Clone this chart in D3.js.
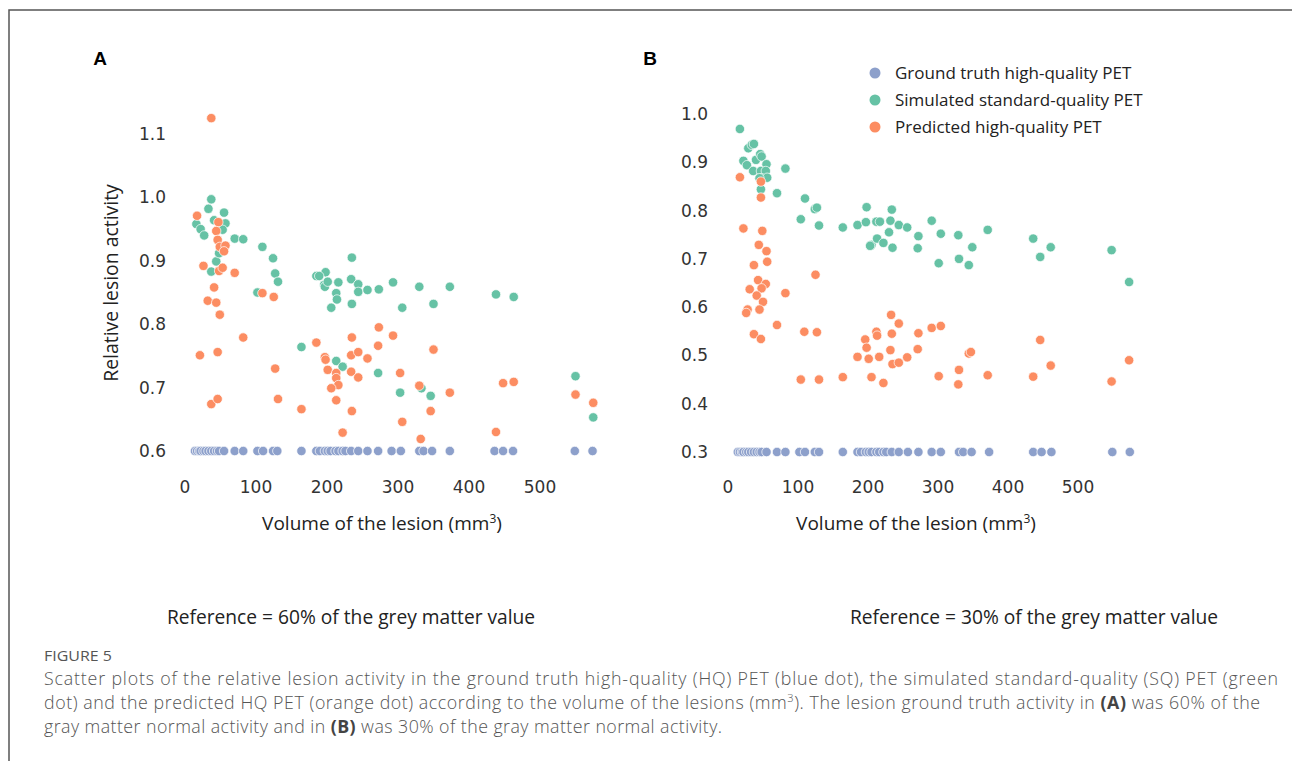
<!DOCTYPE html><html><head><meta charset="utf-8">
<title>Figure 5 scatter plots</title>
<script src="https://cdn.jsdelivr.net/npm/d3@7"></script>
<style>
body { margin: 0; background: #fff; }
svg { display: block; }
.tick-label { font-family: "DejaVu Sans", sans-serif; font-size: 17px; fill: #333; }
.lab { font-family: "Open Sans", sans-serif; fill: #222; }
.cap { font-family: "Open Sans", sans-serif; font-weight: 300; fill: #555; }
</style>
</head>
<body>
<div id="chart"></div>
<script>
// lesion volumes (mm3), shared by both panels
const volumes = [14, 17, 20, 22, 26, 29, 33, 37, 41, 45, 48, 55, 70, 82, 102, 110, 124, 130, 164,
	185, 190, 197, 201, 205, 212, 216, 222, 226, 234, 244, 257, 272, 291, 304, 330, 336, 348, 373,
	436, 448, 462, 549, 574];

// panel A: reference = 60%
const truthA = 0.6;
const simA = [[37, 0.997], [33, 0.982], [55, 0.976], [16, 0.958], [22, 0.950], [27, 0.940], [41, 0.964],
	[57, 0.959], [53, 0.949], [70, 0.935], [82, 0.934], [109, 0.922], [124, 0.904], [127, 0.880],
	[131, 0.867], [44, 0.899], [37, 0.883], [48, 0.912], [185, 0.876], [198, 0.882], [196, 0.862],
	[102, 0.850], [164, 0.764], [235, 0.905], [189, 0.876], [197, 0.859], [201, 0.867], [216, 0.866],
	[234, 0.871], [244, 0.863], [244, 0.851], [257, 0.854], [273, 0.855], [293, 0.866], [330, 0.859],
	[373, 0.859], [438, 0.847], [463, 0.843], [213, 0.849], [214, 0.839], [206, 0.826], [235, 0.832],
	[306, 0.826], [350, 0.832], [213, 0.742], [222, 0.733], [272, 0.723], [303, 0.692], [333, 0.699],
	[346, 0.687], [550, 0.718], [575, 0.653]];
const predA = [[37, 1.125], [17, 0.971], [47, 0.961], [44, 0.947], [46, 0.933], [49, 0.922], [57, 0.924],
	[55, 0.915], [26, 0.892], [48, 0.884], [53, 0.889], [70, 0.881], [41, 0.858], [32, 0.837],
	[44, 0.834], [49, 0.815], [82, 0.779], [21, 0.751], [46, 0.756], [127, 0.730], [37, 0.674],
	[46, 0.682], [131, 0.682], [164, 0.666], [109, 0.849], [125, 0.843], [185, 0.771], [197, 0.748],
	[198, 0.744], [201, 0.728], [213, 0.723], [213, 0.715], [216, 0.704], [206, 0.699], [213, 0.680],
	[222, 0.629], [235, 0.663], [234, 0.725], [244, 0.716], [234, 0.751], [244, 0.756], [257, 0.746],
	[235, 0.779], [272, 0.766], [273, 0.795], [293, 0.782], [303, 0.723], [306, 0.646], [330, 0.703],
	[332, 0.619], [346, 0.663], [350, 0.760], [373, 0.692], [438, 0.630], [448, 0.707], [463, 0.709],
	[550, 0.689], [575, 0.676]];

// panel B: reference = 30%
const truthB = 0.3;
const simB = [[17, 0.969], [29, 0.929], [34, 0.936], [37, 0.938], [22, 0.903], [27, 0.894], [36, 0.882],
	[40, 0.905], [46, 0.917], [48, 0.912], [55, 0.896], [47, 0.882], [54, 0.882], [48, 0.867],
	[56, 0.868], [45, 0.867], [47, 0.844], [70, 0.836], [82, 0.887], [110, 0.825], [124, 0.803],
	[127, 0.806], [104, 0.782], [130, 0.769], [164, 0.765], [185, 0.770], [198, 0.807], [197, 0.776],
	[212, 0.777], [217, 0.777], [205, 0.729], [213, 0.742], [222, 0.733], [230, 0.755], [234, 0.802],
	[232, 0.779], [244, 0.770], [256, 0.765], [291, 0.779], [304, 0.752], [329, 0.749], [371, 0.760],
	[436, 0.742], [461, 0.724], [446, 0.704], [548, 0.718], [573, 0.652], [203, 0.727], [235, 0.723],
	[272, 0.747], [271, 0.722], [301, 0.691], [330, 0.700], [349, 0.724], [344, 0.687]];
const predB = [[17, 0.869], [47, 0.860], [47, 0.827], [22, 0.763], [49, 0.758], [44, 0.729], [55, 0.716],
	[56, 0.694], [37, 0.687], [43, 0.656], [54, 0.648], [31, 0.637], [48, 0.639], [41, 0.624],
	[50, 0.611], [82, 0.629], [28, 0.595], [26, 0.588], [45, 0.595], [70, 0.563], [37, 0.544],
	[47, 0.534], [109, 0.549], [127, 0.548], [125, 0.667], [104, 0.450], [130, 0.450], [164, 0.455],
	[185, 0.497], [196, 0.533], [198, 0.516], [201, 0.493], [205, 0.455], [212, 0.549], [213, 0.541],
	[216, 0.497], [222, 0.443], [233, 0.584], [244, 0.566], [234, 0.545], [232, 0.511], [235, 0.482],
	[244, 0.485], [256, 0.496], [272, 0.546], [271, 0.513], [291, 0.557], [304, 0.561], [301, 0.457],
	[330, 0.470], [329, 0.440], [344, 0.504], [347, 0.507], [371, 0.459], [436, 0.456], [446, 0.532],
	[461, 0.479], [548, 0.446], [573, 0.490]];

const xTicks = [0, 100, 200, 300, 400, 500];
const yTicksA = [0.6, 0.7, 0.8, 0.9, 1.0, 1.1];
const yTicksB = [0.3, 0.4, 0.5, 0.6, 0.7, 0.8, 0.9, 1.0];

const seriesNames = ["Ground truth high-quality PET", "Simulated standard-quality PET", "Predicted high-quality PET"];
const colors = ["#8da0cb", "#66c2a5", "#fc8d62"];

const W = 1292, H = 761;
const svg = d3.select("#chart").append("svg").attr("width", W).attr("height", H);

// frame
svg.append("path").attr("d", `M9,${H} V10 H${W}`).attr("fill", "none").attr("stroke", "#555").attr("stroke-width", 1.5);

function panel(opt) {
	const x = d3.scaleLinear().domain([0, 500]).range(opt.xr);
	const y = d3.scaleLinear().domain(opt.yd).range(opt.yr);
	const g = svg.append("g");

	// y tick labels
	g.selectAll(".yt").data(opt.yTicks).join("text")
		.attr("class", "tick-label")
		.attr("x", opt.yLabelX).attr("y", d => y(d)).attr("dy", "0.35em")
		.attr("text-anchor", "end")
		.text(d => d3.format(".1f")(d));
	// x tick labels
	g.selectAll(".xt").data(xTicks).join("text")
		.attr("class", "tick-label")
		.attr("x", d => x(d)).attr("y", 493)
		.attr("text-anchor", "middle")
		.text(d => d);

	const truth = volumes.map(v => [v, opt.truth]);
	[truth, opt.sim, opt.pred].forEach((data, i) => {
		g.append("g").selectAll("circle").data(data).join("circle")
			.attr("cx", d => x(d[0])).attr("cy", d => y(d[1])).attr("r", 4.7)
			.attr("fill", colors[i]).attr("stroke", "#fff").attr("stroke-width", 0.7);
	});

	const xl = g.append("text").attr("class", "lab").attr("font-size", 19)
		.attr("x", opt.xTitleX).attr("y", 530).attr("text-anchor", "middle");
	xl.append("tspan").text("Volume of the lesion (mm");
	xl.append("tspan").attr("font-size", 12).attr("dy", -7).text("3");
	xl.append("tspan").attr("dy", 7).text(")");

	g.append("text").attr("font-family", "Liberation Sans, Arial, sans-serif").attr("font-weight", "bold")
		.attr("font-size", 19).attr("x", opt.letterX).attr("y", 65).attr("text-anchor", "middle").text(opt.letter);

	g.append("text").attr("class", "lab").attr("font-size", 19.2)
		.attr("x", opt.refX).attr("y", 624).attr("text-anchor", "middle").text(opt.ref);
	return g;
}

const gA = panel({
	xr: [185, 540], yd: [0.6, 1.1], yr: [451, 134], yTicks: yTicksA, yLabelX: 166,
	truth: truthA, sim: simA, pred: predA, xTitleX: 382, letter: "A", letterX: 100,
	ref: "Reference = 60% of the grey matter value", refX: 351
});
gA.append("text").attr("class", "lab").attr("font-size", 19.4)
	.attr("transform", "translate(118,283) rotate(-90)").attr("text-anchor", "middle")
	.text("Relative lesion activity");

panel({
	xr: [728, 1078], yd: [0.3, 1.0], yr: [452, 114], yTicks: yTicksB, yLabelX: 708,
	truth: truthB, sim: simB, pred: predB, xTitleX: 916, letter: "B", letterX: 650,
	ref: "Reference = 30% of the grey matter value", refX: 1034
});

// legend
const leg = svg.append("g");
seriesNames.forEach((s, i) => {
	const yy = 73 + i * 27;
	leg.append("circle").attr("cx", 875).attr("cy", yy).attr("r", 5.5).attr("fill", colors[i]);
	leg.append("text").attr("class", "lab").attr("font-size", 17).attr("x", 895).attr("y", yy).attr("dy", "0.35em").text(s);
});

// caption
svg.append("text").attr("font-family", "Open Sans, sans-serif").attr("fill", "#555").attr("font-size", 14.5)
	.attr("x", 44).attr("y", 661).attr("textLength", 68).attr("lengthAdjust", "spacingAndGlyphs").text("FIGURE 5");
const capLines = [
	[["Scatter plots of the relative lesion activity in the ground truth high-quality (HQ) PET (blue dot), the simulated standard-quality (SQ) PET (green"]],
	[["dot) and the predicted HQ PET (orange dot) according to the volume of the lesions (mm"], ["3", "sup"], ["). The lesion ground truth activity in "], ["(A)", "b"], [" was 60% of the"]],
	[["gray matter normal activity and in "], ["(B)", "b"], [" was 30% of the gray matter normal activity."]]
];
const capWidths = [1234, 1216, 678];
capLines.forEach((parts, i) => {
	const t = svg.append("text").attr("class", "cap").attr("font-size", 17.8).attr("x", 44).attr("y", 685 + i * 24)
		.attr("textLength", capWidths[i]).attr("lengthAdjust", "spacing");
	parts.forEach(p => {
		const ts = t.append("tspan").text(p[0]);
		if (p[1] === "b") ts.attr("font-weight", 700).attr("fill", "#444");
		if (p[1] === "sup") ts.attr("font-size", 11).attr("baseline-shift", "super");
	});
});
</script>
</body></html>
